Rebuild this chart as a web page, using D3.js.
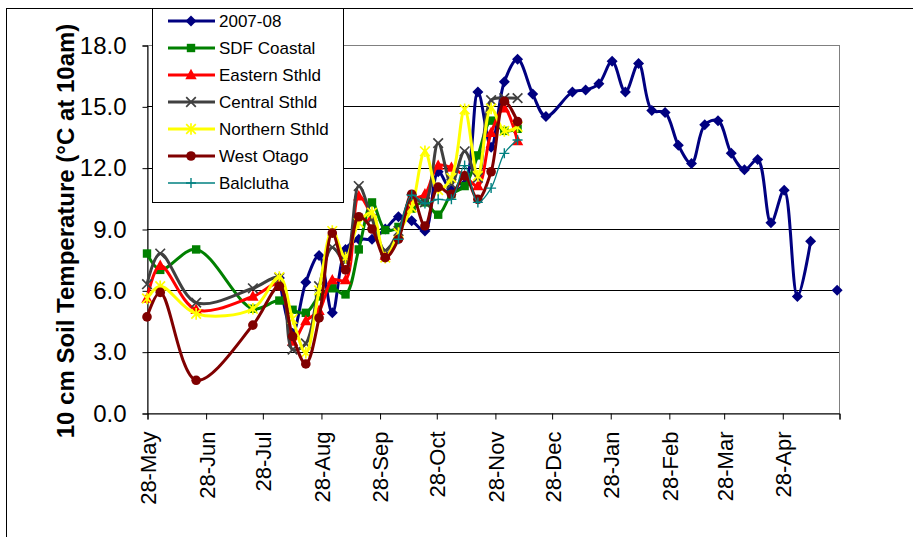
<!DOCTYPE html>
<html>
<head>
<meta charset="utf-8">
<script src="https://cdn.jsdelivr.net/npm/d3@7/dist/d3.min.js"></script>
<style>
  html, body { margin: 0; padding: 0; background: #fff; }
  svg { display: block; font-family: Arial, "Liberation Sans", sans-serif; }
</style>
</head>
<body>
<svg id="chart" width="913" height="537"></svg>
<script>
// ---------------- data ----------------
const regionDates = ["2007-05-28","2007-06-04","2007-06-23","2007-07-23","2007-08-06","2007-08-13",
  "2007-08-20","2007-08-27","2007-09-03","2007-09-10","2007-09-17","2007-09-24","2007-10-01",
  "2007-10-08","2007-10-15","2007-10-22","2007-10-29","2007-11-05","2007-11-12","2007-11-19",
  "2007-11-26","2007-12-03","2007-12-10"];

const seasonDates = ["2007-08-06","2007-08-13","2007-08-20","2007-08-27","2007-09-03","2007-09-10",
  "2007-09-17","2007-09-24","2007-10-01","2007-10-08","2007-10-15","2007-10-22","2007-10-29",
  "2007-11-05","2007-11-12","2007-11-19","2007-11-26","2007-12-03","2007-12-10","2007-12-18",
  "2007-12-25","2008-01-08","2008-01-15","2008-01-22","2008-01-29","2008-02-05","2008-02-12",
  "2008-02-19","2008-02-26","2008-03-04","2008-03-11","2008-03-18","2008-03-25","2008-04-01",
  "2008-04-08","2008-04-15","2008-04-22","2008-04-29","2008-05-06","2008-05-13","2008-05-20",
  "2008-05-27"];

const season0708 = [6.6,3.9,6.4,7.7,4.9,8.0,8.5,8.5,9.0,9.6,9.4,8.9,11.8,10.9,11.2,15.7,13.0,16.2,17.3,
  15.6,14.5,15.7,15.8,16.1,17.2,15.7,17.1,14.8,14.7,13.1,12.2,14.1,14.3,12.7,11.9,12.4,9.3,10.9,5.7,8.4,
  null,6.0];

const sdfCoastal   = [7.8,7.0,8.0,5.1,5.5,5.05,4.9,5.7,6.1,5.8,8.0,10.3,8.95,9.1,10.0,10.3,9.7,10.7,11.1,12.6,14.3,13.8,13.9];
const easternSthld = [5.6,7.2,5.05,5.7,6.3,3.5,4.5,5.0,6.5,6.5,10.6,9.6,7.7,8.7,10.4,10.7,12.1,12.0,11.6,11.1,13.7,14.9,13.3];
const centralSthld = [6.3,7.8,5.4,6.1,6.6,3.1,3.4,6.2,8.1,7.4,11.1,9.5,7.95,8.9,10.5,10.3,13.2,11.2,12.8,11.5,15.3,15.4,15.4];
const northernSthld= [5.6,6.2,4.85,5.1,6.65,4.6,2.95,6.0,8.9,7.6,9.3,9.8,7.6,8.8,10.05,12.8,10.9,11.5,14.85,11.6,14.9,13.8,14.0];
const westOtago    = [4.7,5.9,1.6,4.3,6.2,3.75,2.4,4.65,8.8,7.0,9.6,9.0,7.6,8.5,10.7,9.15,11.05,10.7,11.6,10.45,11.8,15.25,14.25];
const balcluthaDates = regionDates.slice(13);
const balclutha    = [8.5,10.65,10.25,10.45,10.45,12.1,10.3,11.0,12.7,13.35];

const seriesNames = ["2007-08","SDF Coastal","Eastern Sthld","Central Sthld","Northern Sthld","West Otago","Balclutha"];
const yTicks = [0,3,6,9,12,15,18];
const xTickDates = ["2007-05-28","2007-06-28","2007-07-28","2007-08-28","2007-09-28","2007-10-28",
  "2007-11-28","2007-12-28","2008-01-28","2008-02-28","2008-03-28","2008-04-28","2008-05-28"];
const yTitle = "10 cm Soil Temperature (°C at 10am)";

// ---------------- styles ----------------
const styles = [
  {color:"#000080", width:3,   marker:"diamond"},
  {color:"#008000", width:3,   marker:"square"},
  {color:"#FF0000", width:3,   marker:"triangle"},
  {color:"#404040", width:3,   marker:"x"},
  {color:"#FFFF00", width:3,   marker:"star"},
  {color:"#800000", width:3,   marker:"circle"},
  {color:"#008080", width:1.3, marker:"plus"}
];

const parse = d3.timeParse("%Y-%m-%d");
function mk(dates, vals){ return dates.map((d,i)=>({date:parse(d), v:vals[i]})); }
const allSeries = [
  mk(seasonDates, season0708),
  mk(regionDates, sdfCoastal),
  mk(regionDates, easternSthld),
  mk(regionDates, centralSthld),
  mk(regionDates, northernSthld),
  mk(regionDates, westOtago),
  mk(balcluthaDates, balclutha)
];

// ---------------- layout ----------------
const svg = d3.select("#chart");
const L = 147, R = 839, T = 45, B = 413;

svg.append("rect").attr("width",913).attr("height",537).attr("fill","#fff");
// chart-area frame (extends beyond the visible window on right/bottom)
svg.append("rect").attr("x",6.5).attr("y",8.5).attr("width",1000).attr("height",1000)
  .attr("fill","none").attr("stroke","#000").attr("stroke-width",1);

const x = d3.scaleTime().domain([parse(xTickDates[0]), parse(xTickDates[xTickDates.length-1])]).range([L,R]);
const y = d3.scaleLinear().domain([0,18]).range([B,T]);

// plot area border
svg.append("rect").attr("x",L+0.5).attr("y",T+0.5).attr("width",R-L).attr("height",B-T)
  .attr("fill","none").attr("stroke","#808080").attr("stroke-width",1);

// gridlines
svg.append("g").selectAll("line").data(yTicks.filter(t=>t>0 && t<18)).join("line")
  .attr("x1",L).attr("x2",R).attr("y1",d=>Math.round(y(d))+0.5).attr("y2",d=>Math.round(y(d))+0.5)
  .attr("stroke","#000").attr("stroke-width",1);

// y axis
const yAxis = d3.axisLeft(y).tickValues(yTicks).tickFormat(d3.format(".1f")).tickSize(5).tickPadding(16);
const gy = svg.append("g").attr("transform",`translate(${L+0.5},0.5)`).call(yAxis);
gy.select(".domain").attr("stroke","#000");
gy.selectAll(".tick line").attr("stroke","#000");
gy.selectAll("text").attr("font-size",24).attr("font-family","Arial, 'Liberation Sans', sans-serif").attr("fill","#000");

// x axis
const xAxis = d3.axisBottom(x).tickValues(xTickDates.map(parse))
  .tickFormat((d,i)=> i < xTickDates.length-1 ? d3.timeFormat("%d-%b")(d) : "").tickSize(6).tickPadding(0);
const gx = svg.append("g").attr("transform",`translate(0.5,${B+0.5})`).call(xAxis);
gx.select(".domain").attr("stroke","#000");
gx.selectAll(".tick line").attr("stroke","#000");
gx.selectAll("text")
  .attr("font-size",22).attr("font-family","Arial, 'Liberation Sans', sans-serif").attr("fill","#000")
  .attr("text-anchor","end").attr("transform","rotate(-90)")
  .attr("x",-18).attr("y",0).attr("dy","0.36em");

// y title
svg.append("text").attr("transform",`translate(74,${(T+B)/2+2}) rotate(-90)`)
  .attr("text-anchor","middle").attr("font-size",24).attr("font-weight","bold").attr("fill","#000")
  .text(yTitle);

// ---------------- series ----------------
const line = d3.line().defined(d=>d.v!=null).x(d=>x(d.date)).y(d=>y(d.v)).curve(d3.curveCatmullRom.alpha(0.5));

function drawMarker(g, type, color){
  const s = 5;
  if(type==="diamond") g.append("path").attr("d",`M0,${-s-0.5}L${s+0.5},0L0,${s+0.5}L${-s-0.5},0Z`).attr("fill",color);
  else if(type==="square") g.append("rect").attr("x",-4.2).attr("y",-4.2).attr("width",8.4).attr("height",8.4).attr("fill",color);
  else if(type==="triangle") g.append("path").attr("d",`M0,-6.2L5.7,4.2L-5.7,4.2Z`).attr("fill",color);
  else if(type==="circle") g.append("circle").attr("r",4.8).attr("fill",color);
  else if(type==="x") g.append("path").attr("d",`M-4.8,-4.8L4.8,4.8M4.8,-4.8L-4.8,4.8`).attr("stroke",color).attr("stroke-width",1.7);
  else if(type==="star") g.append("path").attr("d",`M-4.8,-4.8L4.8,4.8M4.8,-4.8L-4.8,4.8M0,-5.8L0,5.8`).attr("stroke",color).attr("stroke-width",1.7);
  else if(type==="plus") g.append("path").attr("d",`M-5,0L5,0M0,-5L0,5`).attr("stroke",color).attr("stroke-width",1.4);
}

allSeries.forEach((data,i)=>{
  const st = styles[i];
  const g = svg.append("g");
  g.append("path").datum(data).attr("d",line).attr("fill","none")
    .attr("stroke",st.color).attr("stroke-width",st.width).attr("stroke-linejoin","round");
  data.filter(d=>d.v!=null).forEach(d=>{
    const m = g.append("g").attr("transform",`translate(${x(d.date)},${y(d.v)})`);
    drawMarker(m, st.marker, st.color);
  });
});

// ---------------- legend ----------------
const lg = svg.append("g");
lg.append("rect").attr("x",152.5).attr("y",8.5).attr("width",191).attr("height",194)
  .attr("fill","#fff").attr("stroke","#000").attr("stroke-width",1);
seriesNames.forEach((name,i)=>{
  const yy = 21 + i*27;
  const st = styles[i];
  lg.append("line").attr("x1",168).attr("x2",215).attr("y1",yy).attr("y2",yy)
    .attr("stroke",st.color).attr("stroke-width",st.width);
  const m = lg.append("g").attr("transform",`translate(191,${yy})`);
  drawMarker(m, st.marker, st.color);
  lg.append("text").attr("x",219).attr("y",yy).attr("dy","0.36em").attr("font-size",17).attr("fill","#000").text(name);
});
</script>
</body>
</html>
